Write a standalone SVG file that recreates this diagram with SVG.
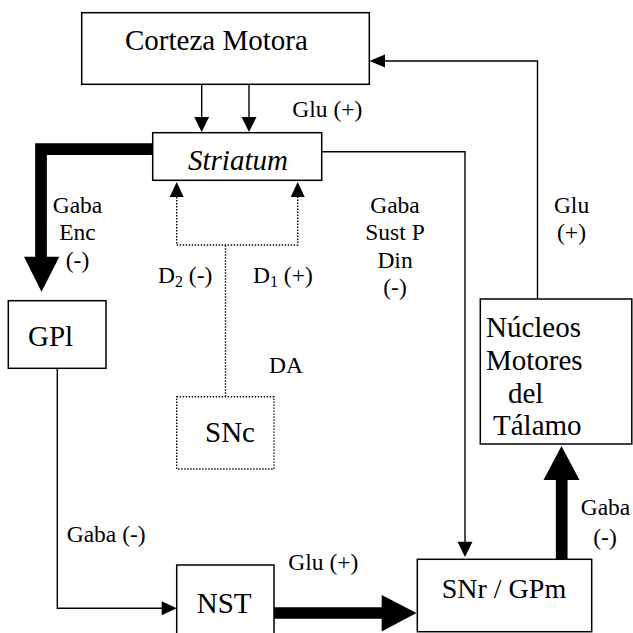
<svg xmlns="http://www.w3.org/2000/svg" width="633" height="633" viewBox="0 0 633 633">
<style>
.box{fill:#fff;stroke:#000;stroke-width:1.5}
.dbox{fill:#fff;stroke:#000;stroke-width:1.4;stroke-dasharray:1.4 1.6}
.t{font-family:"Liberation Serif","Times New Roman",serif;font-size:29px;fill:#000}
.l{font-family:"Liberation Serif","Times New Roman",serif;font-size:23.5px;fill:#000}
.thin{fill:none;stroke:#000;stroke-width:1.4}
.thick{fill:none;stroke:#000;stroke-width:11.7;stroke-linejoin:miter}
.dot{fill:none;stroke:#000;stroke-width:1.4;stroke-dasharray:1.4 1.6}
.ah{fill:#000}
</style>
<rect width="633" height="633" fill="#fff"/>
<g id="connectors">
  <!-- Nucleos -> Corteza -->
  <path class="thin" d="M537.5,299 V61 H384"/>
  <polygon class="ah" points="369.5,61 385,54.5 385,67.5"/>
  <!-- Corteza -> Striatum -->
  <path class="thin" d="M201.7,84.3 V118"/>
  <polygon class="ah" points="194.2,117 209.2,117 201.7,132"/>
  <path class="thin" d="M249,84.3 V118"/>
  <polygon class="ah" points="241.5,117 256.5,117 249,132"/>
  <!-- Striatum -> GPl thick -->
  <path class="thick" d="M152.7,149.2 H41 V258"/>
  <polygon class="ah" points="24,256.7 59.3,256.7 41.5,291.7"/>
  <!-- Striatum -> SNr -->
  <path class="thin" d="M321.7,151.7 H465 V543"/>
  <polygon class="ah" points="457.5,541.7 472.5,541.7 465,557"/>
  <!-- SNc dotted -> Striatum -->
  <path class="dot" d="M225.5,396.7 V245"/>
  <path class="dot" d="M176.7,197 V245 H297.7 V197"/>
  <polygon class="ah" points="169.7,197 183.7,197 176.7,182"/>
  <polygon class="ah" points="290.7,197 304.7,197 297.7,182"/>
  <!-- GPl -> NST -->
  <path class="thin" d="M57.3,368.3 V608.3 H163"/>
  <polygon class="ah" points="176.7,608.3 161.7,601.3 161.7,615.3"/>
  <!-- NST -> SNr thick -->
  <path class="thick" d="M274,613 H383"/>
  <polygon class="ah" points="381.7,595 381.7,631.5 416.5,613"/>
  <!-- SNr -> Nucleos thick -->
  <path class="thick" d="M561.7,559.3 V478"/>
  <polygon class="ah" points="543.5,480 579.5,480 561.5,446"/>
</g>
<g id="corteza">
  <rect class="box" x="81.7" y="12.7" width="287.6" height="71.6"/>
  <text class="t" x="125" y="50">Corteza Motora</text>
</g>
<g id="striatum">
  <rect class="box" x="152.7" y="132.7" width="169" height="47.6"/>
  <text class="t" x="188" y="170" font-style="italic">Striatum</text>
</g>
<g id="gpl">
  <rect class="box" x="8.3" y="300.7" width="97.7" height="67.6"/>
  <text class="t" x="28" y="346">GPl</text>
</g>
<g id="snc">
  <rect class="dbox" x="176.7" y="396.7" width="97.3" height="72.3"/>
  <text class="t" x="230" y="442" text-anchor="middle">SNc</text>
</g>
<g id="nucleos">
  <rect class="box" x="480.3" y="299" width="151.5" height="145"/>
  <text class="t" x="486" y="336.7">Núcleos</text>
  <text class="t" x="486" y="370">Motores</text>
  <text class="t" x="508" y="403">del</text>
  <text class="t" x="493" y="435">Tálamo</text>
</g>
<g id="nst">
  <rect class="box" x="176.7" y="565" width="97.3" height="75"/>
  <text class="t" x="196.7" y="613" font-size="28">NST</text>
</g>
<g id="snr">
  <rect class="box" x="417.3" y="559.3" width="174.4" height="72.4"/>
  <text class="t" x="441.7" y="598.3" style="font-size:28px">SNr / GPm</text>
</g>
<g id="labels">
  <text class="l" x="292.3" y="116.7">Glu (+)</text>
  <text class="l" x="77.5" y="213" text-anchor="middle">Gaba</text>
  <text class="l" x="77.5" y="240" text-anchor="middle">Enc</text>
  <text class="l" x="77.5" y="268" text-anchor="middle">(-)</text>
  <text class="l" x="395" y="212.7" text-anchor="middle">Gaba</text>
  <text class="l" x="395" y="240" text-anchor="middle">Sust P</text>
  <text class="l" x="395" y="268" text-anchor="middle">Din</text>
  <text class="l" x="395" y="295" text-anchor="middle">(-)</text>
  <text class="l" x="571.5" y="212.7" text-anchor="middle">Glu</text>
  <text class="l" x="571.5" y="240" text-anchor="middle">(+)</text>
  <text class="l" x="158" y="283">D<tspan font-size="16" dy="4">2</tspan><tspan dy="-4"> (-)</tspan></text>
  <text class="l" x="253" y="283">D<tspan font-size="16" dy="4">1</tspan><tspan dy="-4"> (+)</tspan></text>
  <text class="l" x="269" y="373.3">DA</text>
  <text class="l" x="66.7" y="541.7">Gaba (-)</text>
  <text class="l" x="288.3" y="570">Glu (+)</text>
  <text class="l" x="580.7" y="515">Gaba</text>
  <text class="l" x="605" y="545" text-anchor="middle">(-)</text>
</g>
</svg>
